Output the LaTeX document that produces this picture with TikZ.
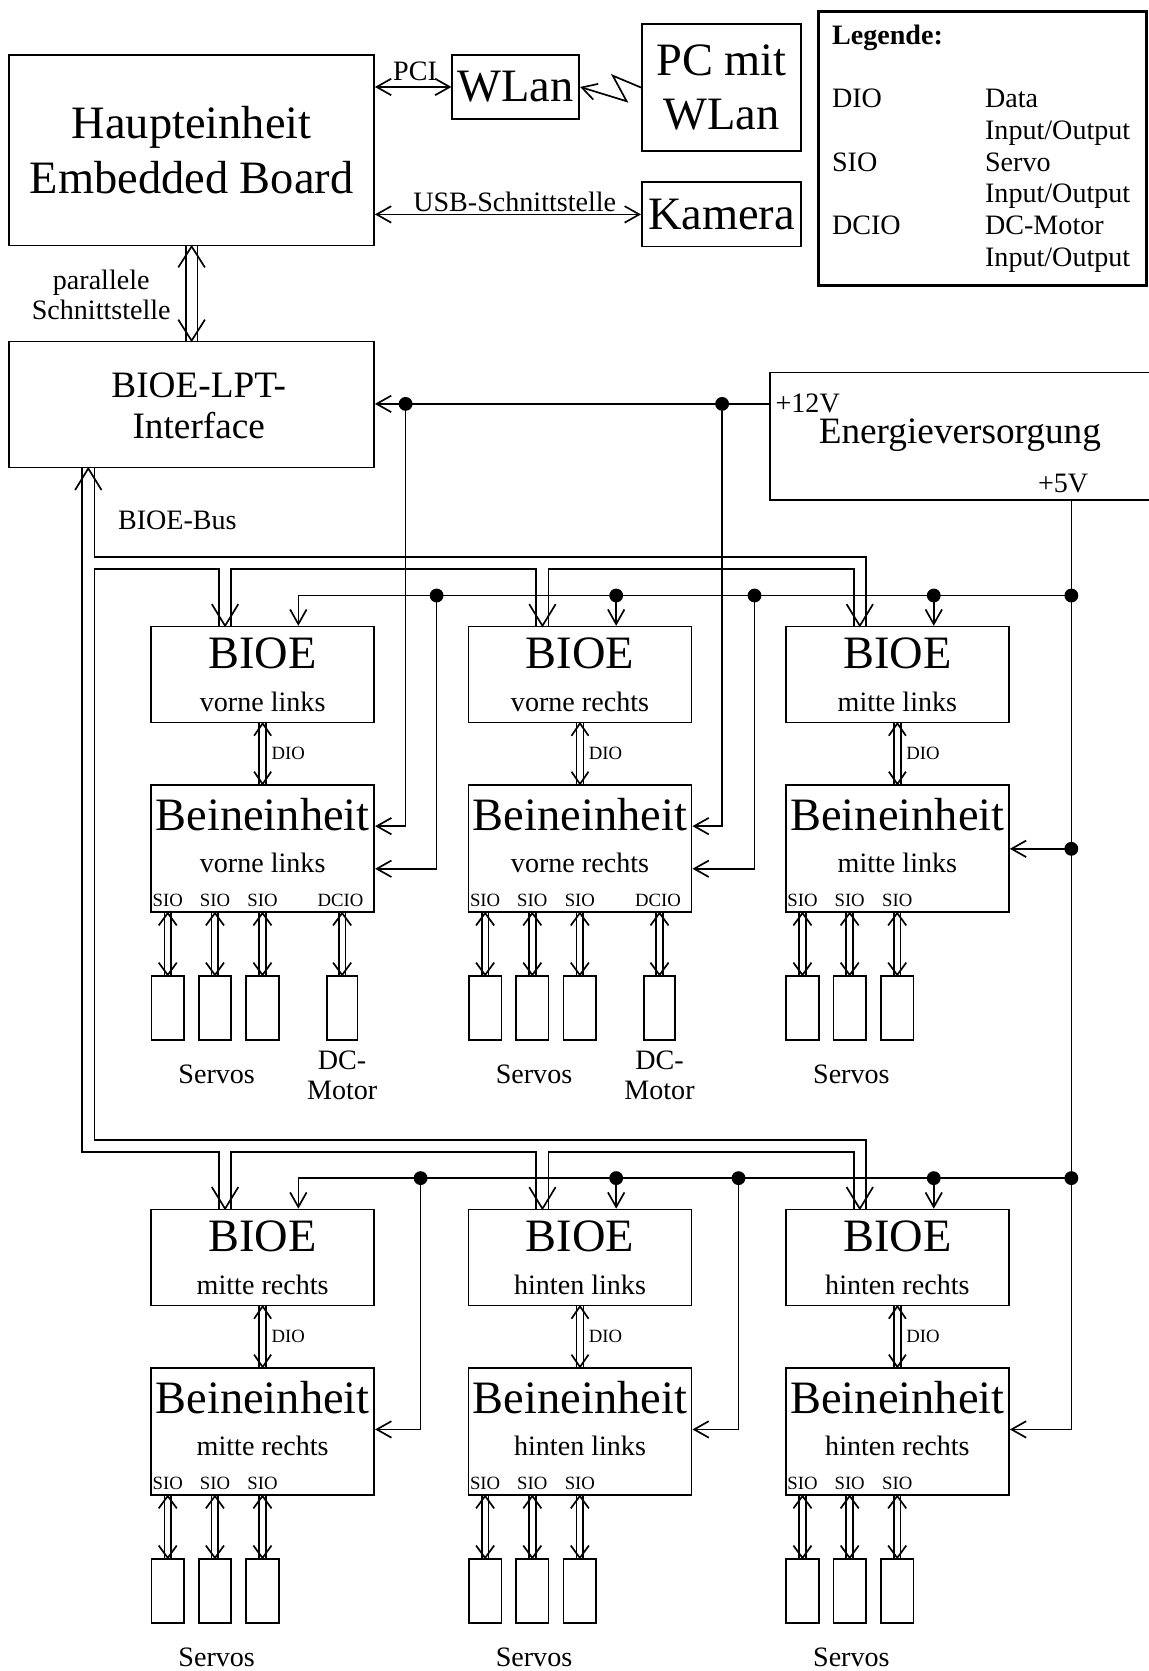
\documentclass[tikz,border=0pt]{standalone}
\usepackage{fontspec}
\setmainfont{Liberation Serif}
\usetikzlibrary{calc,arrows.meta}

\begin{document}
\begin{tikzpicture}[x=0.02cm,y=-0.02cm,line width=.9pt,
        >={Straight Barb[length=7.8pt,width=8.8pt]}]
        %%init
        \newcommand{\px}{0.02cm}
        %Abstand der Spalten und Zeilen
        \newcommand{\dx}{297.8}
        \newcommand{\dy}{547}
        \useasboundingbox (0,0) rectangle (1078,1568);

        %%Stile
        \tikzset{box/.style = {draw, rectangle, inner sep=0}}
        \tikzset{big/.style = {font=\fontsize{24.8}{29}\selectfont, inner sep=0, align=center}}
        \tikzset{mid/.style = {font=\fontsize{19.9}{22.2}\selectfont, inner sep=0, align=center}}
        \tikzset{txt/.style = {font=\fontsize{15}{16}\selectfont, inner sep=0, align=center}}
        \tikzset{tiny/.style = {font=\fontsize{10}{12}\selectfont, inner sep=0}}

        %hohler Doppelpfeil: #1 oben, #2 unten, #3 halber Abstand, #4 halbe Breite, #5 Laenge
        \newcommand{\hohlpfeil}[5]{
            \draw ($(#1)+(-#3,0)$)--($(#2)+(-#3,0)$) ($(#1)+(#3,0)$)--($(#2)+(#3,0)$);
            \draw ($(#1)+(-#4,#5)$)--(#1)--($(#1)+(#4,#5)$);
            \draw ($(#2)+(-#4,-#5)$)--(#2)--($(#2)+(#4,-#5)$);
        }
        %hohle Spitze des Busses: #2=-1 nach unten, #2=1 nach oben
        \newcommand{\busspitze}[2]{
            \draw ($(#1)+(-12.4,#2*20.3)$)--(#1)--($(#1)+(12.4,#2*20.3)$);
        }

        %%Hauptteil oben
        \node[box, big, minimum width=342.4*\px, minimum height=178.9*\px] (haupt) at (179.8,141) {Haupteinheit\\Embedded Board};
        \node[box, big, minimum width=119.2*\px, minimum height=60*\px] (wlan) at (484,81.6) {WLan};
        \node[box, big, minimum width=149.5*\px, minimum height=119.2*\px] (pc) at (677,82.1) {PC mit\\WLan};
        \node[box, big, minimum width=149.5*\px, minimum height=60.4*\px] (kamera) at (677,201.2) {Kamera};
        \node[txt] (pcitext) at (389.5,67.2) {PCI};
        \node[txt] (usbtext) at (483,189) {USB-Schnittstelle};
        \draw[<->] (haupt.east |- wlan.west) -- (wlan.west);
        \draw[<->] (haupt.east |- kamera.west) -- (kamera.west);
        \draw[->] (pc.west) -- (575,71) -- (588,95) -- (wlan.east);%Funk

        %%Legende
        \node[box, line width=1.6pt, minimum width=308*\px, minimum height=257*\px] (legende) at (922,139.5) {};
        \node[txt, anchor=base west, font=\fontsize{15}{16}\selectfont\bfseries] (legtitel) at (780,41.7) {Legende:};
        \node[txt, anchor=base west] (legdio) at (780,100.7) {DIO};
        \node[txt, anchor=base west] (legsio) at (780,160.5) {SIO};
        \node[txt, anchor=base west] (legdcio) at (780,220.3) {DCIO};
        \foreach \t [count=\i] in {Data, Input/Output, Servo, Input/Output, DC-Motor, Input/Output}
            \node[txt, anchor=base west] (legtext\i) at (923.6,{100.7+29.9*(\i-1)}) {\t};

        %%BIOE-LPT und Energieversorgung
        \node[box, minimum width=342.4*\px, minimum height=118.3*\px] (lpt) at (179.8,379.6) {};
        \node[mid] (lpttext) at (186.5,380.7) {BIOE-LPT-\\Interface};
        \node[txt] (paralleltext) at (95,276.7) {parallele\\Schnittstelle};
        \hohlpfeil{haupt.south}{lpt.north}{5.4}{12.5}{19.7}
        \node[box, minimum width=367.3*\px, minimum height=119.4*\px] (energie) at (906.35,409.3) {};
        \node[mid] (energietext) at (900.7,408) {Energieversorgung};
        \node[txt, anchor=west] (p12) at (727,379) {+12V};
        \node[txt] (p5) at (997.6,454) {+5V};
        \node[txt, anchor=west] (bustext) at (110,487.8) {BIOE-Bus};

        %%Beine
        \foreach \leg/\lage/\spalte/\zeile in {VL/vorne links/0/0, VR/vorne rechts/1/0, ML/mitte links/2/0,
                MR/mitte rechts/0/1, HL/hinten links/1/1, HR/hinten rechts/2/1}{
            \pgfmathsetmacro{\xo}{141.7+\dx*\spalte}
            \pgfmathsetmacro{\yo}{588+\dy*\zeile}
            %BIOE
            \node[box, minimum width=209.5*\px, minimum height=90*\px] (bioe\leg) at (\xo+104.75,\yo+45) {};
            \node[big] (bioe\leg a) at (\xo+104.75,\yo+25.5) {BIOE};
            \node[txt] (bioe\leg b) at (\xo+104.75,\yo+70.8) {\lage};
            %Beineinheit
            \node[box, minimum width=209.5*\px, minimum height=119.5*\px] (bein\leg) at (\xo+104.75,\yo+208.25) {};
            \node[big] (bein\leg a) at (\xo+104.75,\yo+176.6) {Beineinheit};
            \node[txt] (bein\leg b) at (\xo+104.75,\yo+221.7) {\lage};
            \hohlpfeil{bioe\leg.south}{bein\leg.north}{3.15}{8}{11.6}
            \node[tiny, anchor=west] (dio\leg) at ($(bioe\leg.south)!.5!(bein\leg.north)+(7.6,0)$) {DIO};
            %Servos
            \foreach \i/\o in {1/15.7,2/60,3/104.6}{
                \node[box, minimum width=30.5*\px, minimum height=60*\px] (servo\leg\i) at (\xo+\o,\yo+357.65) {};
                \hohlpfeil{servo\leg\i.north |- bein\leg.south}{servo\leg\i.north}{3.15}{8.5}{11.6}
                \node[tiny] (sio\leg\i) at ($(servo\leg\i.north |- bein\leg.south)+(0,-12.3)$) {SIO};
            }
            \node[txt] (servos\leg) at ($(servo\leg2.south)+(1.6,31.5)$) {Servos};
            %Busanschluss
            \coordinate (t\leg) at ($(bioe\leg.north)+(-35.25,0)$);
            \coordinate (l\leg) at ($(t\leg)+(-5.75,0)$);
            \coordinate (r\leg) at ($(t\leg)+(5.75,0)$);
            \busspitze{t\leg}{-1}
        }
        %DC-Motoren
        \foreach \leg in {VL,VR}{
            \node[box, minimum width=29*\px, minimum height=60*\px] (motor\leg) at ($(servo\leg1.center)+(163.65,0)$) {};
            \hohlpfeil{motor\leg.north |- bein\leg.south}{motor\leg.north}{3.15}{8.5}{11.6}
            \node[tiny] (dcio\leg) at ($(motor\leg.north |- bein\leg.south)+(-1.5,-12.3)$) {DCIO};
            \node[txt] (dcmotor\leg) at ($(motor\leg.south)+(0,32.8)$) {DC-\\Motor};
        }

        %%BIOE-Bus
        \coordinate (bus) at ($(lpt.south)+(-96.95,0)$);
        \coordinate (busl) at ($(bus)+(-5.85,0)$);
        \coordinate (busr) at ($(bus)+(5.85,0)$);
        \coordinate (ebeneA) at (0,522.6);
        \coordinate (ebeneB) at (0,534);
        \coordinate (ebeneC) at (0,1069.5);
        \coordinate (ebeneD) at (0,1081);
        \busspitze{bus}{1}
        \draw (busr) |- (rML |- ebeneA) -- (rML);
        \draw (lVL) |- (busr |- ebeneB) |- (rHR |- ebeneC) -- (rHR);
        \draw (rVL) |- (lVR |- ebeneB) -- (lVR);
        \draw (rVR) |- (lML |- ebeneB) -- (lML);
        \draw (busl) |- (lMR |- ebeneD) -- (lMR);
        \draw (rMR) |- (lHL |- ebeneD) -- (lHL);
        \draw (rHL) |- (lHR |- ebeneD) -- (lHR);

        %%Versorgung
        %+12V
        \coordinate (v12) at (722.7,379);
        \coordinate (k12a) at (380.6,379);
        \coordinate (k12b) at (677.6,379);
        \draw[->] (v12) -- (lpt.east |- v12);
        \draw[->] (k12a) |- ($(beinVL.north east)+(0,39.5)$);
        \draw[->] (k12b) |- ($(beinVR.north east)+(0,39.5)$);
        %+5V
        \coordinate (v5) at (1005.3,469);
        \coordinate (a1) at (409.7,558.8);
        \coordinate (a2) at (578.2,558.8);
        \coordinate (a3) at (708,558.8);
        \coordinate (a4) at (876.2,558.8);
        \coordinate (a5) at (1005.3,558.8);
        \coordinate (a6) at (1005.3,796.5);
        \coordinate (b1) at (394.7,1105.5);
        \coordinate (b2) at (578.2,1105.5);
        \coordinate (b3) at (693,1105.5);
        \coordinate (b4) at (876.2,1105.5);
        \coordinate (b5) at (1005.3,1105.5);
        \draw[->] (v5) |- ($(beinHR.north east)+(0,58.6)$);
        \draw[->] (a5) -| ($(bioeVL.north)+(33.5,0)$);
        \draw[->] (b5) -| ($(bioeMR.north)+(33.5,0)$);
        \draw[->] (a1) |- ($(beinVL.north east)+(0,79.5)$);
        \draw[->] (a2) -- (a2 |- bioeVR.north);
        \draw[->] (a3) |- ($(beinVR.north east)+(0,79.5)$);
        \draw[->] (a4) -- (a4 |- bioeML.north);
        \draw[->] (a6) -- (a6 -| beinML.east);
        \draw[->] (b1) |- ($(beinMR.north east)+(0,58.6)$);
        \draw[->] (b2) -- (b2 |- bioeHL.north);
        \draw[->] (b3) |- ($(beinHL.north east)+(0,58.6)$);
        \draw[->] (b4) -- (b4 |- bioeHR.north);
        \foreach \k in {k12a,k12b,a1,a2,a3,a4,a5,a6,b1,b2,b3,b4,b5}
            \fill (\k) circle[radius=6.5];
\end{tikzpicture}
\end{document}
